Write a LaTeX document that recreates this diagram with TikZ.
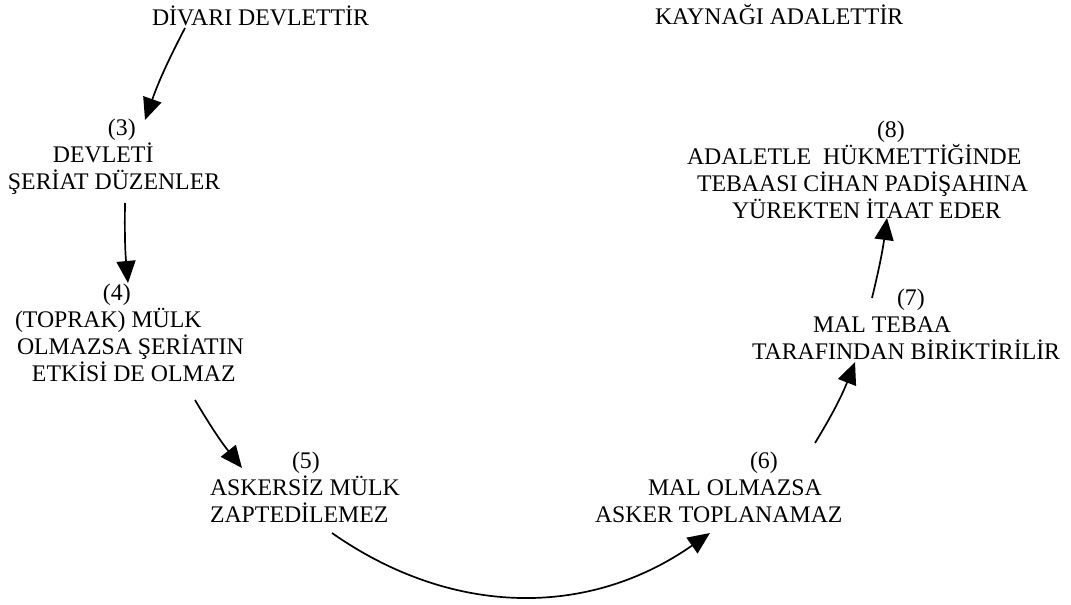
\documentclass[tikz,border=0pt]{standalone}
\usepackage{fontspec}
\setmainfont{Liberation Serif}
\usetikzlibrary{arrows.meta,calc}
\tikzset{
  txt/.style={anchor=north west, inner sep=0pt, outer sep=0pt, align=left,
    font=\fontsize{23.8}{27}\selectfont},
  conn/.style={line width=1.7pt, -{Triangle[length=22pt,width=19pt]}}
}
\newcommand{\fl}{\rule{0pt}{20pt}}
\begin{document}
\begin{tikzpicture}[x=1pt,y=-1pt]
\useasboundingbox (0,0) rectangle (1071,605);
\node[txt] (t1) at (152,5) {\fl DİVARI DEVLETTİR};
\node[txt] (t2) at (655,4) {\fl KAYNAĞI ADALETTİR};
\node[txt] (d3) at (8,115) {\fl\hspace*{100pt}(3)\\\hspace*{45pt}DEVLETİ\\ŞERİAT DÜZENLER};
\node[txt] (d4) at (15,280) {\fl\hspace*{88pt}(4)\\(TOPRAK) MÜLK\\\hspace*{2pt}OLMAZSA ŞERİATIN\\\hspace*{17pt}ETKİSİ DE OLMAZ};
\node[txt] (d5) at (210,448) {\fl\hspace*{82pt}(5)\\ASKERSİZ MÜLK\\ZAPTEDİLEMEZ};
\node[txt] (d6) at (595,448) {\fl\hspace*{155pt}(6)\\\hspace*{53pt}MAL OLMAZSA\\ASKER TOPLANAMAZ};
\node[txt] (d7) at (752,285) {\fl\hspace*{145pt}(7)\\\hspace*{61pt}MAL TEBAA\\TARAFINDAN BİRİKTİRİLİR};
\node[txt] (d8) at (687,117) {\fl\hspace*{190pt}(8)\\ADALETLE\ \ HÜKMETTİĞİNDE\\\hspace*{10pt}TEBAASI CİHAN PADİŞAHINA\\\hspace*{45pt}YÜREKTEN İTAAT EDER};
\draw[conn] ($(t1.north west)+(33,23)$) to[bend right=4] ($(d3.north west)+(137,5)$);
\draw[conn] ($(d3.north west)+(117,88)$) to[bend right=3] ($(d4.north west)+(113,3)$);
\draw[conn] ($(d4.north west)+(180,120)$) to[bend right=4] ($(d5.north west)+(32,20)$);
\draw[conn] ($(d5.north west)+(122,85)$) to[bend right=35] ($(d6.north west)+(115,85)$);
\draw[conn] ($(d6.north west)+(220,-5)$) to[bend right=5] ($(d7.north west)+(103,77)$);
\draw[conn] ($(d7.north west)+(120,13)$) to[bend right=3] ($(d8.north west)+(200,101)$);
\end{tikzpicture}
\end{document}
